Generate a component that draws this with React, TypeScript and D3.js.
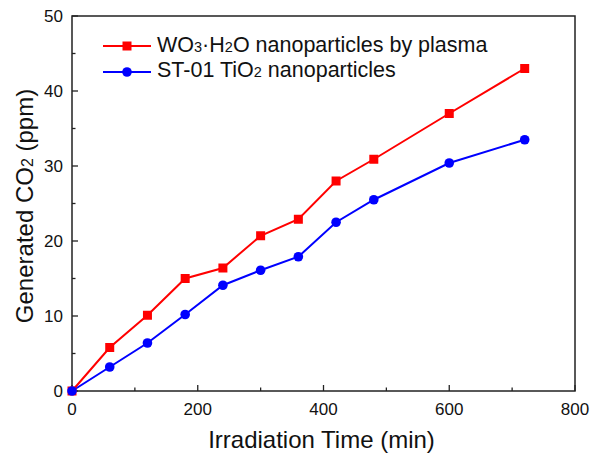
import React from "react";
import * as d3 from "d3";

const timeMin = [0, 60, 120, 180, 240, 300, 360, 420, 480, 600, 720];
const wo3Values = [0, 5.8, 10.1, 15.0, 16.4, 20.7, 22.9, 28.0, 30.9, 37.0, 43.0];
const tio2Values = [0, 3.2, 6.4, 10.2, 14.1, 16.1, 17.9, 22.5, 25.5, 30.4, 33.5];
const xTicks = [0, 200, 400, 600, 800];
const xMinor = [100, 300, 500, 700];
const yTicks = [0, 10, 20, 30, 40, 50];
const yMinor = [5, 15, 25, 35, 45];

const W = 593;
const H = 453;
const m = { left: 72, right: 575, top: 16, bottom: 391 };
const FONT = "'Liberation Sans', Arial, sans-serif";

export default function App() {
  const x = d3.scaleLinear().domain([0, 800]).range([m.left, m.right]);
  const y = d3.scaleLinear().domain([0, 50]).range([m.bottom, m.top]);
  const line = d3
    .line<[number, number]>()
    .x((d) => x(d[0]))
    .y((d) => y(d[1]));
  const red = timeMin.map((t, i) => [t, wo3Values[i]] as [number, number]);
  const blue = timeMin.map((t, i) => [t, tio2Values[i]] as [number, number]);

  const legendX1 = 103;
  const legendX2 = 151;
  const legendY1 = 46;
  const legendY2 = 72;

  return (
    <svg
      width={W}
      height={H}
      style={{ position: "absolute", left: 0, top: 0, background: "#fff" }}
      fontFamily={FONT}
    >
      <rect x={0} y={0} width={W} height={H} fill="#fff" />
      {/* frame */}
      <rect
        x={m.left}
        y={m.top}
        width={m.right - m.left}
        height={m.bottom - m.top}
        fill="none"
        stroke="#222"
        strokeWidth={1.5}
      />
      {/* x ticks */}
      {xTicks.map((t) => (
        <g key={"xt" + t}>
          <line x1={x(t)} x2={x(t)} y1={m.bottom} y2={m.bottom - 6} stroke="#222" strokeWidth={1.3} />
          <text x={x(t)} y={m.bottom + 24} fontSize={17} textAnchor="middle" fill="#111">
            {t}
          </text>
        </g>
      ))}
      {xMinor.map((t) => (
        <line key={"xm" + t} x1={x(t)} x2={x(t)} y1={m.bottom} y2={m.bottom - 3.5} stroke="#222" strokeWidth={1.3} />
      ))}
      {/* y ticks */}
      {yTicks.map((t) => (
        <g key={"yt" + t}>
          <line x1={m.left} x2={m.left + 6} y1={y(t)} y2={y(t)} stroke="#222" strokeWidth={1.3} />
          <text x={m.left - 9} y={y(t) + 6} fontSize={17} textAnchor="end" fill="#111">
            {t}
          </text>
        </g>
      ))}
      {yMinor.map((t) => (
        <line key={"ym" + t} x1={m.left} x2={m.left + 3.5} y1={y(t)} y2={y(t)} stroke="#222" strokeWidth={1.3} />
      ))}
      {/* axis titles */}
      <text x={(m.left + m.right) / 2 - 2} y={448} fontSize={24} textAnchor="middle" fill="#111">
        Irradiation Time (min)
      </text>
      <text
        transform={`translate(33, 206) rotate(-90)`}
        fontSize={24}
        textAnchor="middle"
        fill="#111"
      >
        Generated CO<tspan fontSize={16}>2</tspan> (ppm)
      </text>
      {/* series */}
      <path d={line(red) || ""} fill="none" stroke="#ff0000" strokeWidth={2} />
      <path d={line(blue) || ""} fill="none" stroke="#0000ff" strokeWidth={2} />
      {red.map((d, i) => (
        <rect key={"r" + i} x={x(d[0]) - 4.5} y={y(d[1]) - 4.5} width={9} height={9} fill="#ff0000" />
      ))}
      {blue.map((d, i) => (
        <circle key={"b" + i} cx={x(d[0])} cy={y(d[1])} r={4.8} fill="#0000ff" />
      ))}
      {/* legend */}
      <line x1={legendX1} x2={legendX2} y1={legendY1} y2={legendY1} stroke="#ff0000" strokeWidth={2} />
      <rect x={(legendX1 + legendX2) / 2 - 4.5} y={legendY1 - 4.5} width={9} height={9} fill="#ff0000" />
      <text x={157} y={52} fontSize={21.5} fill="#111">
        WO<tspan fontSize={14.5}>3</tspan>·H<tspan fontSize={14.5}>2</tspan>O nanoparticles by plasma
      </text>
      <line x1={legendX1} x2={legendX2} y1={legendY2} y2={legendY2} stroke="#0000ff" strokeWidth={2} />
      <circle cx={(legendX1 + legendX2) / 2} cy={legendY2} r={4.8} fill="#0000ff" />
      <text x={157} y={77} fontSize={21.5} fill="#111">
        ST-01 TiO<tspan fontSize={14.5}>2</tspan> nanoparticles
      </text>
    </svg>
  );
}
